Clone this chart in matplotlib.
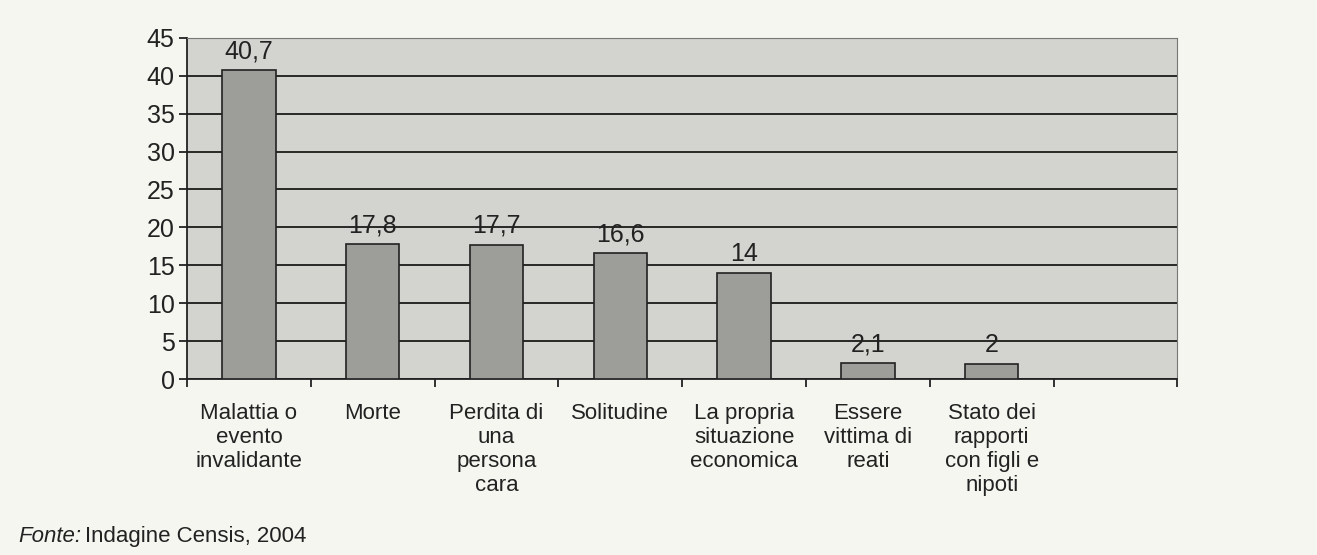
import numpy as np
import matplotlib.pyplot as plt

plt.rcParams['font.family'] = ['Liberation Sans', 'DejaVu Sans']

categories = ['Malattia o\nevento\ninvalidante', 'Morte', 'Perdita di\nuna\npersona\ncara',
              'Solitudine', 'La propria\nsituazione\neconomica', 'Essere\nvittima di\nreati',
              'Stato dei\nrapporti\ncon figli e\nnipoti', '']
values = [40.7, 17.8, 17.7, 16.6, 14, 2.1, 2]
value_labels = ['40,7', '17,8', '17,7', '16,6', '14', '2,1', '2']

fig = plt.figure(figsize=(13.17, 5.55), dpi=100)
fig.patch.set_facecolor('#f6f6f1')
ax = fig.add_axes([0.142, 0.317, 0.752, 0.615])
ax.set_facecolor('#d3d3cf')

x = np.arange(len(values))
ax.bar(x, values, width=0.43, color='#9d9d9a', edgecolor='#222222', linewidth=1.2, zorder=3)
for xi, v, lab in zip(x, values, value_labels):
    ax.text(xi, v + 0.9, lab, ha='center', va='bottom', fontsize=18, color='#222222')

ax.set_xlim(-0.5, len(categories) - 0.5)
ax.set_ylim(0, 45)
ax.set_yticks(np.arange(0, 46, 5))
ax.yaxis.grid(True, color='#1a1a1a', linewidth=1.3, zorder=1)
ax.set_axisbelow(True)

# category ticks sit at slot boundaries, labels at slot centres
ax.set_xticks(np.arange(-0.5, len(categories)), minor=False)
ax.set_xticklabels([])
ax.set_xticks(x.tolist() + [len(categories) - 1], minor=True)
ax.set_xticklabels(categories, minor=True, linespacing=1.2)
ax.tick_params(axis='x', which='minor', length=0, pad=17, labelsize=16, labelcolor='#222222')
ax.tick_params(axis='x', which='major', length=6, width=1.3, direction='out', color='#222222')
ax.tick_params(axis='y', length=6, width=1.3, direction='out', pad=3, labelsize=18,
               labelcolor='#222222', color='#222222')

for side in ['left', 'bottom']:
    ax.spines[side].set_color('#222222')
    ax.spines[side].set_linewidth(1.3)
for side in ['top', 'right']:
    ax.spines[side].set_color('#777777')
    ax.spines[side].set_linewidth(0.8)

fig.text(0.014, 0.023, 'Fonte:', fontsize=16, style='italic', color='#222222', va='baseline')
fig.text(0.0645, 0.023, 'Indagine Censis, 2004', fontsize=16, color='#222222', va='baseline')

fig.savefig('out.png', dpi=100, facecolor=fig.get_facecolor())
